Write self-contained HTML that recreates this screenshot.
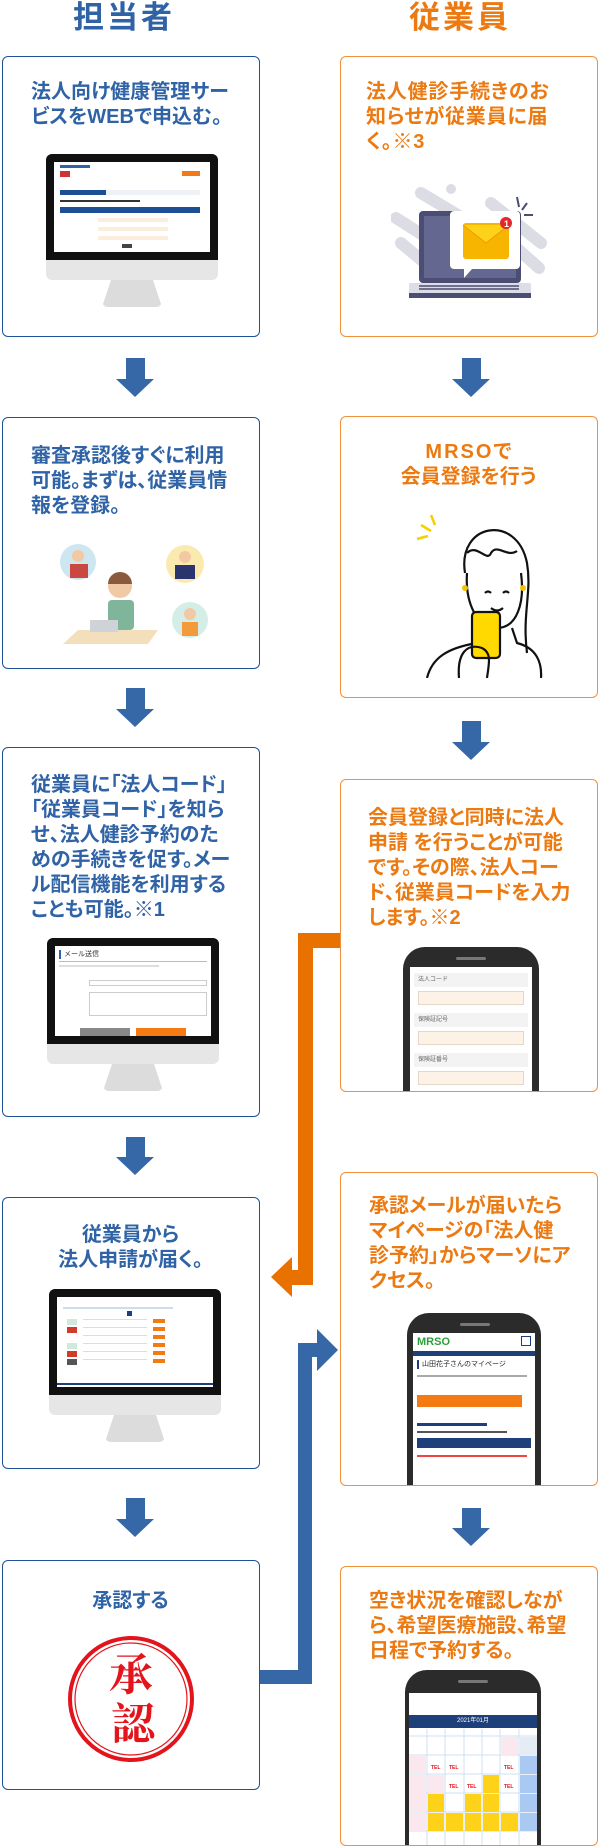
<!DOCTYPE html>
<html><head><meta charset="utf-8">
<style>
*{margin:0;padding:0;box-sizing:border-box}
body{width:600px;height:1847px;position:relative;background:#fff;overflow:hidden;font-family:"Liberation Sans","Noto Sans CJK JP",sans-serif}
.h{position:absolute;top:0;font-size:31px;font-weight:bold;letter-spacing:3px;line-height:36px;text-align:center;width:160px}
.box{position:absolute;border-radius:6px;overflow:hidden;background:#fff}
.bl{border:1.5px solid #1d5296}
.or{border:1.5px solid #f0903a}
.t{position:absolute;font-size:20px;line-height:25px;font-weight:bold;white-space:nowrap;font-feature-settings:"palt"}
.tb{color:#2f63a6}.to{color:#ec7a12}
.ab{position:absolute}
.mon{position:absolute;width:172px;height:153px}
.mon .bz{position:absolute;left:0;top:0;width:172px;height:106px;background:#111;border-radius:6px 6px 0 0}
.mon .sc{position:absolute;left:8px;top:8px;width:156px;height:90px;background:#fff;overflow:hidden}
.mon .ch{position:absolute;left:0;top:106px;width:172px;height:20px;background:#e6e6e6;border-radius:0 0 6px 6px}
.mon .st{position:absolute;left:56px;top:126px;width:60px;height:27px;background:#dcdcdc;clip-path:polygon(15% 0,85% 0,100% 100%,0 100%);border-radius:0 0 6px 6px}
.phone{position:absolute;width:136px;height:260px;background:#2b2b2b;border-radius:22px}
.phone .scr{position:absolute;left:7px;top:20px;width:122px;height:240px;background:#fff;overflow:hidden}
.phone .sp{position:absolute;left:53px;top:10px;width:30px;height:3px;background:#777;border-radius:2px}
</style></head><body>

<div class="h tb" style="left:44px">担当者</div>
<div class="h to" style="left:380px">従業員</div>

<!-- arrows -->
<svg class="ab" style="left:0;top:0" width="600" height="1847">
<g fill="#3668a8">
<polygon points="126,358 145,358 145,379 154,379 135,397 116,379 126,379"/>
<polygon points="126,688 145,688 145,709 154,709 135,727 116,709 126,709"/>
<polygon points="126,1137 145,1137 145,1157 154,1157 135,1175 116,1157 126,1157"/>
<polygon points="126,1498 145,1498 145,1519 154,1519 135,1537 116,1519 126,1519"/>
<polygon points="462,358 481,358 481,379 490,379 471,397 452,379 462,379"/>
<polygon points="462,721 481,721 481,742 490,742 471,760 452,742 462,742"/>
<polygon points="462,1508 481,1508 481,1528 490,1528 471,1546 452,1528 462,1528"/>
<rect x="258" y="1670" width="54" height="14"/>
<rect x="298" y="1343" width="14" height="341"/>
<rect x="298" y="1343" width="22" height="14"/>
<polygon points="317,1329 338,1350 317,1371"/>
</g>
<g fill="#e87100">
<rect x="298" y="933" width="44" height="15"/>
<rect x="298" y="933" width="15" height="352"/>
<rect x="290" y="1270" width="23" height="15"/>
<polygon points="271,1277 292,1257 292,1297"/>
</g>
</svg>

<!-- B1 -->
<div class="box bl" style="left:2px;top:56px;width:258px;height:281px">
 <div class="t tb" style="left:28px;top:23px">法人向け健康管理サー<br>ビスをWEBで申込む。</div>
 <div class="mon" style="left:43px;top:97px"><div class="bz"><div class="sc">
  <div style="position:absolute;left:6px;top:3px;width:30px;height:3px;background:#2f63a6"></div>
  <div style="position:absolute;left:6px;top:9px;width:10px;height:6px;background:#c33"></div>
  <div style="position:absolute;left:128px;top:9px;width:18px;height:5px;background:#f07a1a"></div>
  <div style="position:absolute;left:6px;top:28px;width:46px;height:5px;background:#1d4f94"></div>
  <div style="position:absolute;left:52px;top:28px;width:94px;height:5px;background:#eef1f6"></div>
  <div style="position:absolute;left:6px;top:38px;width:80px;height:2px;background:#333"></div>
  <div style="position:absolute;left:6px;top:45px;width:140px;height:6px;background:#1d4f94"></div>
  <div style="position:absolute;left:44px;top:56px;width:70px;height:4px;background:#fbeedd"></div>
  <div style="position:absolute;left:44px;top:65px;width:70px;height:4px;background:#fbeedd"></div>
  <div style="position:absolute;left:44px;top:74px;width:70px;height:4px;background:#fbeedd"></div>
  <div style="position:absolute;left:68px;top:82px;width:10px;height:4px;background:#444"></div>
 </div></div><div class="ch"></div><div class="st"></div></div>
</div>

<!-- R1 -->
<div class="box or" style="left:340px;top:56px;width:258px;height:281px">
 <div class="t to" style="left:25px;top:23px;letter-spacing:0.8px">法人健診手続きのお<br>知らせが従業員に届<br>く。※3</div>
 <svg style="position:absolute;left:50px;top:126px" width="156" height="118">
  <g stroke="#dcdce4" stroke-width="12" stroke-linecap="round">
   <line x1="30" y1="10" x2="80" y2="40"/><line x1="5" y1="35" x2="60" y2="70"/><line x1="100" y1="20" x2="150" y2="60"/><line x1="120" y1="60" x2="148" y2="85"/><line x1="10" y1="60" x2="40" y2="85"/>
  </g>
  <circle cx="60" cy="6" r="5" fill="#dcdce4"/>
  <rect x="28" y="28" width="102" height="72" rx="4" fill="#4b4d74"/>
  <rect x="33" y="33" width="92" height="62" fill="#64678f"/>
  <rect x="18" y="100" width="122" height="12" rx="2" fill="#dcdde6"/>
  <rect x="18" y="110" width="122" height="5" fill="#4b4d74"/>
  <g stroke="#4b4d74" stroke-width="1.5"><line x1="28" y1="103" x2="128" y2="103"/><line x1="28" y1="106" x2="128" y2="106"/></g>
  <path d="M63,28 h62 a4,4 0 0 1 4,4 v50 a4,4 0 0 1 -4,4 h-44 l-8,9 v-9 h-10 a4,4 0 0 1 -4,-4 v-50 a4,4 0 0 1 4,-4z" fill="#fff"/>
  <rect x="72" y="40" width="46" height="36" rx="3" fill="#f7b500"/>
  <path d="M72,42 l23,18 l23,-18" fill="#ffd21a" stroke="#f29900" stroke-width="1"/>
  <circle cx="115" cy="40" r="6" fill="#e5262a"/>
  <text x="113" y="44" font-size="9" fill="#fff" font-weight="bold" font-family="Liberation Sans">1</text>
  <g stroke="#4b4d74" stroke-width="2"><line x1="126" y1="14" x2="128" y2="24"/><line x1="136" y1="20" x2="131" y2="27"/><line x1="142" y1="32" x2="133" y2="32"/></g>
 </svg>
</div>

<!-- B2 -->
<div class="box bl" style="left:2px;top:417px;width:258px;height:252px">
 <div class="t tb" style="left:28px;top:26px">審査承認後すぐに利用<br>可能。まずは、従業員情<br>報を登録。</div>
 <svg style="position:absolute;left:55px;top:120px" width="150" height="106">
  <circle cx="20" cy="24" r="18" fill="#cde6ef"/><circle cx="20" cy="18" r="6" fill="#f2c9a5"/><rect x="12" y="26" width="18" height="14" fill="#c9483f"/>
  <circle cx="127" cy="26" r="19" fill="#fbeab0"/><circle cx="127" cy="19" r="6" fill="#f2c9a5"/><rect x="117" y="27" width="20" height="14" fill="#2a3570"/>
  <circle cx="132" cy="82" r="18" fill="#d4ede6"/><circle cx="132" cy="76" r="6" fill="#f2c9a5"/><rect x="124" y="84" width="16" height="14" fill="#f39a3a"/>
  <circle cx="62" cy="48" r="12" fill="#f2c9a5"/><path d="M50,46 a12,12 0 0 1 24,0 z" fill="#8a5a3c"/>
  <rect x="50" y="62" width="26" height="30" rx="4" fill="#7fb59a"/>
  <polygon points="5,106 90,106 100,92 20,92" fill="#f4dfbd"/>
  <rect x="32" y="82" width="28" height="12" fill="#cfd3d8"/>
 </svg>
</div>

<!-- R2 -->
<div class="box or" style="left:340px;top:416px;width:258px;height:282px">
 <div class="t to" style="left:0;width:255px;text-align:center;top:23px">
 <span style="letter-spacing:2px">MRSO</span>で<br>会員登録を行う</div>
 <svg style="position:absolute;left:66px;top:96px" width="136" height="165" fill="none" stroke="#111" stroke-width="2.2">
  <g stroke="#f5d000" stroke-width="2.5"><line x1="10" y1="26" x2="21" y2="23"/><line x1="14" y1="12" x2="24" y2="18"/><line x1="24" y1="2" x2="28" y2="12"/></g>
  <path d="M58,60 C50,10 110,0 120,50 C125,80 115,100 120,140"/>
  <path d="M60,60 C58,90 70,115 90,115 C110,115 118,90 114,60"/>
  <path d="M60,40 C70,30 80,50 84,40 C90,30 100,45 110,38"/>
  <circle cx="58" cy="75" r="3" fill="#f5c000" stroke="none"/><circle cx="116" cy="75" r="3" fill="#f5c000" stroke="none"/>
  <path d="M78,80 q3,-3 6,0 M96,80 q3,-3 6,0 M84,95 q6,5 12,0"/>
  <path d="M75,115 L70,130 C40,135 25,145 20,165 M105,115 L110,130 C130,135 135,150 134,165"/>
  <rect x="65" y="99" width="28" height="46" rx="4" fill="#ffd900"/>
  <path d="M52,165 C50,140 60,130 75,135 C85,140 82,150 80,165"/>
 </svg>
</div>

<!-- B3 -->
<div class="box bl" style="left:2px;top:747px;width:258px;height:370px">
 <div class="t tb" style="left:28px;top:25px">従業員に「法人コード」<br>「従業員コード」を知ら<br>せ、法人健診予約のた<br>めの手続きを促す。メー<br>ル配信機能を利用する<br>ことも可能。※1</div>
 <div class="mon" style="left:44px;top:190px"><div class="bz"><div class="sc">
  <div style="position:absolute;left:4px;top:4px;width:2px;height:9px;background:#2f63a6"></div>
  <div style="position:absolute;left:9px;top:5px;font-size:7px;line-height:8px;color:#333">メール送信</div>
  <div style="position:absolute;left:4px;top:15px;width:148px;height:1px;background:#bbb"></div>
  <div style="position:absolute;left:4px;top:19px;width:100px;height:2px;background:#ddd"></div>
  <div style="position:absolute;left:34px;top:34px;width:118px;height:6px;border:1px solid #ccc"></div>
  <div style="position:absolute;left:34px;top:46px;width:118px;height:24px;border:1px solid #ccc"></div>
  <div style="position:absolute;left:25px;top:82px;width:50px;height:8px;background:#888"></div>
  <div style="position:absolute;left:81px;top:82px;width:50px;height:8px;background:#f47a14"></div>
 </div></div><div class="ch"></div><div class="st"></div></div>
</div>

<!-- R3 -->
<div class="box or" style="left:340px;top:779px;width:258px;height:313px">
 <div class="t to" style="left:27px;top:26px">会員登録と同時に法人<br>申請 を行うことが可能<br>です。その際、法人コー<br>ド、従業員コードを入力<br>します。※2</div>
 <div class="phone" style="left:62px;top:167px"><div class="sp"></div><div class="scr">
  <div style="position:absolute;left:4px;top:6px;width:114px;height:14px;background:#f3f3f3;font-size:6px;line-height:14px;color:#666;padding-left:4px">法人コード</div>
  <div style="position:absolute;left:8px;top:24px;width:106px;height:14px;background:#fdf2e6;border:1px solid #e6d8c8"></div>
  <div style="position:absolute;left:4px;top:46px;width:114px;height:14px;background:#f3f3f3;font-size:6px;line-height:14px;color:#666;padding-left:4px">保険証記号</div>
  <div style="position:absolute;left:8px;top:64px;width:106px;height:14px;background:#fdf2e6;border:1px solid #e6d8c8"></div>
  <div style="position:absolute;left:4px;top:86px;width:114px;height:14px;background:#f3f3f3;font-size:6px;line-height:14px;color:#666;padding-left:4px">保険証番号</div>
  <div style="position:absolute;left:8px;top:104px;width:106px;height:14px;background:#fdf2e6;border:1px solid #e6d8c8"></div>
 </div></div>
</div>

<!-- B4 -->
<div class="box bl" style="left:2px;top:1197px;width:258px;height:272px">
 <div class="t tb" style="left:0;width:255px;text-align:center;top:25px">従業員から<br>法人申請が届く。</div>
 <div class="mon" style="left:46px;top:91px"><div class="bz"><div class="sc">
  <div style="position:absolute;left:6px;top:10px;width:110px;height:2px;background:#cde"></div>
  <div style="position:absolute;left:70px;top:14px;width:5px;height:5px;background:#1d3f7a"></div>
  <div style="position:absolute;left:10px;top:22px;width:10px;height:6px;background:#cfe9dc"></div>
  <div style="position:absolute;left:10px;top:30px;width:10px;height:6px;background:#d23a2a"></div>
  <div style="position:absolute;left:10px;top:46px;width:10px;height:6px;background:#cfe9dc"></div>
  <div style="position:absolute;left:10px;top:54px;width:10px;height:6px;background:#d23a2a"></div>
  <div style="position:absolute;left:10px;top:62px;width:10px;height:6px;background:#555"></div>
  <div style="position:absolute;left:96px;top:22px;width:12px;height:44px;background:repeating-linear-gradient(#f47a14 0 4px,#fff 4px 8px)"></div>
  <div style="position:absolute;left:26px;top:22px;width:64px;height:44px;background:repeating-linear-gradient(#ddd 0 1px,#fff 1px 8px)"></div>
  <div style="position:absolute;left:0;top:86px;width:156px;height:2px;background:#1d3f7a"></div>
 </div></div><div class="ch"></div><div class="st"></div></div>
</div>

<!-- R4 -->
<div class="box or" style="left:340px;top:1172px;width:258px;height:314px">
 <div class="t to" style="left:28px;top:21px">承認メールが届いたら<br>マイページの「法人健<br>診予約」からマーソにア<br>クセス。</div>
 <div class="phone" style="left:66px;top:140px;width:134px"><div class="sp"></div><div class="scr" style="width:122px;left:6px">
  <div style="position:absolute;left:4px;top:3px;font-size:11px;font-weight:bold;color:#2f9e3a;font-family:'Liberation Sans',sans-serif">MRSO</div>
  <div style="position:absolute;left:108px;top:3px;width:10px;height:10px;border:1px solid #1d3f7a"></div>
  <div style="position:absolute;left:0;top:18px;width:122px;height:5px;background:#1d3f7a"></div>
  <div style="position:absolute;left:4px;top:27px;font-size:7px;color:#222;border-left:2px solid #1d3f7a;padding-left:3px;line-height:9px">山田花子さんのマイページ</div>
  <div style="position:absolute;left:4px;top:42px;width:110px;height:2px;background:#aaa"></div>
  <div style="position:absolute;left:4px;top:62px;width:105px;height:12px;background:#f47a14"></div>
  <div style="position:absolute;left:4px;top:90px;width:70px;height:3px;background:#1d3f7a"></div>
  <div style="position:absolute;left:4px;top:98px;width:90px;height:2px;background:#555"></div>
  <div style="position:absolute;left:4px;top:105px;width:114px;height:10px;background:#1d3f7a"></div>
  <div style="position:absolute;left:4px;top:122px;width:110px;height:2px;background:#e44"></div>
 </div></div>
</div>

<!-- B5 -->
<div class="box bl" style="left:2px;top:1560px;width:258px;height:230px">
 <div class="t tb" style="left:0;width:255px;text-align:center;top:28px">承認する</div>
 <svg style="position:absolute;left:64px;top:74px" width="130" height="130">
  <circle cx="64" cy="64" r="61" fill="none" stroke="#e3141c" stroke-width="4"/>
  <circle cx="64" cy="64" r="56" fill="none" stroke="#e3141c" stroke-width="1.2"/>
  <text x="64" y="55" text-anchor="middle" font-size="44" font-weight="bold" fill="#e3141c" font-family="Noto Serif CJK SC,serif">承</text>
  <text x="66" y="104" text-anchor="middle" font-size="44" font-weight="bold" fill="#e3141c" font-family="Noto Serif CJK SC,serif">認</text>
 </svg>
</div>

<!-- R5 -->
<div class="box or" style="left:340px;top:1566px;width:258px;height:280px">
 <div class="t to" style="left:28px;top:22px">空き状況を確認しなが<br>ら、希望医療施設、希望<br>日程で予約する。</div>
 <div class="phone" style="left:64px;top:103px"><div class="sp"></div><div class="scr" style="top:23px;left:4px;width:128px">
  <div style="position:absolute;left:0;top:22px;width:128px;height:13px;background:#1d3f7a;color:#fff;font-size:6px;line-height:13px;text-align:center">2021年01月</div>
  <svg style="position:absolute;left:0;top:36px" width="128" height="120">
   <g stroke="#cfe0f0" stroke-width="1"><line x1="18" y1="0" x2="18" y2="120"/><line x1="36" y1="0" x2="36" y2="120"/><line x1="55" y1="0" x2="55" y2="120"/><line x1="73" y1="0" x2="73" y2="120"/><line x1="91" y1="0" x2="91" y2="120"/><line x1="110" y1="0" x2="110" y2="120"/>
   <line x1="0" y1="7" x2="128" y2="7"/><line x1="0" y1="26" x2="128" y2="26"/><line x1="0" y1="45" x2="128" y2="45"/><line x1="0" y1="64" x2="128" y2="64"/><line x1="0" y1="83" x2="128" y2="83"/><line x1="0" y1="102" x2="128" y2="102"/></g>
   <g fill="#fbe8ee"><rect x="0" y="27" width="17" height="18"/><rect x="0" y="46" width="17" height="18"/><rect x="0" y="65" width="17" height="18"/><rect x="0" y="84" width="17" height="18"/><rect x="92" y="8" width="17" height="18"/><rect x="19" y="46" width="16" height="18"/></g>
   <g fill="#a9c8f2"><rect x="111" y="27" width="17" height="18"/><rect x="111" y="46" width="17" height="18"/><rect x="111" y="65" width="17" height="18"/><rect x="111" y="84" width="17" height="18"/><rect x="111" y="8" width="17" height="18" fill="#e6ecf5"/></g>
   <g fill="#ffd21a"><rect x="74" y="46" width="16" height="18"/><rect x="19" y="65" width="16" height="18"/><rect x="56" y="65" width="16" height="18"/><rect x="74" y="65" width="16" height="18"/><rect x="19" y="84" width="16" height="18"/><rect x="37" y="84" width="17" height="18"/><rect x="56" y="84" width="16" height="18"/><rect x="74" y="84" width="16" height="18"/><rect x="92" y="84" width="17" height="18"/></g>
   <g fill="#e3141c" font-size="5" font-family="Liberation Sans" font-weight="bold"><text x="22" y="40">TEL</text><text x="40" y="40">TEL</text><text x="95" y="40">TEL</text><text x="40" y="59">TEL</text><text x="58" y="59">TEL</text><text x="95" y="59">TEL</text></g>
  </svg>
 </div></div>
</div>

</body></html>
